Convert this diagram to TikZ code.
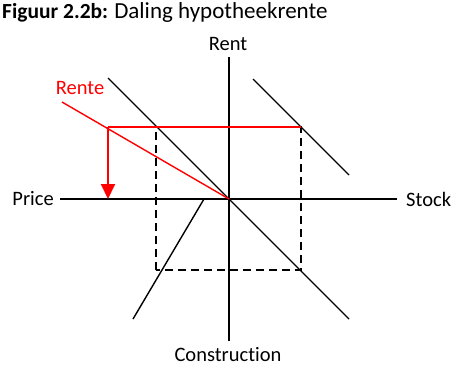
\documentclass[tikz,border=0pt]{standalone}
\usepackage{fontspec}
\setmainfont[Ligatures=NoCommon]{Carlito}
\usetikzlibrary{arrows.meta,positioning}

\begin{document}
\begin{tikzpicture}[
  x=1pt, y=-1pt,
  lbl/.style={font=\fontsize{20.5}{23}\selectfont, inner sep=0pt},
  axis/.style={line width=1.4pt},
  curve/.style={line width=1.4pt},
  guide/.style={line width=1.4pt, dash pattern=on 8pt off 5pt},
  rente/.style={red, line width=1.4pt},
  arrow/.style={-{Triangle[length=15pt, width=14pt]}, red, line width=2pt}
]
\useasboundingbox (0,0) rectangle (454,369);
% axes
\coordinate (o) at (229,199);
\coordinate (top) at (229,57);
\coordinate (bot) at (229,341);
\coordinate (left) at (60,199);
\coordinate (right) at (397,199);
\draw[axis] (top) -- (bot);
\draw[axis] (left) -- (right);
\node[lbl] (rent) at (228,44) {Rent};
\node[lbl] (constr) at (228,355) {Construction};
\node[lbl, anchor=east] (price) at (54,199) {Price};
\node[lbl, anchor=west] (stock) at (406,199) {Stock};
\node[lbl, anchor=base west] (title) at (2,19) {{\fontsize{21.5}{24}\selectfont\bfseries Figuur 2.2b:} {\fontsize{23}{26}\selectfont Daling hypotheekrente}};
% curves
\coordinate (d1) at (108,78);
\coordinate (d2) at (349,319);
\coordinate (s1) at (253,79);
\coordinate (s2) at (349,175);
\coordinate (c1) at (204,199);
\coordinate (c2) at (133,319);
\draw[curve] (d1) -- (d2);
\draw[curve] (s1) -- (s2);
\draw[curve] (c1) -- (c2);
% dashed box
\coordinate (bl) at (156,270);
\coordinate (tr) at (301,127);
\draw[guide] (bl) rectangle (tr);
% interest rate
\coordinate (r1) at (62,102);
\coordinate (p) at (108,127);
\coordinate (pd) at (108,199);
\node[lbl, red] (rente) at (80,88) {Rente};
\draw[rente] (r1) -- (o);
\draw[rente] (p) -- (tr);
\draw[arrow] (p) -- (pd);
\end{tikzpicture}
\end{document}
